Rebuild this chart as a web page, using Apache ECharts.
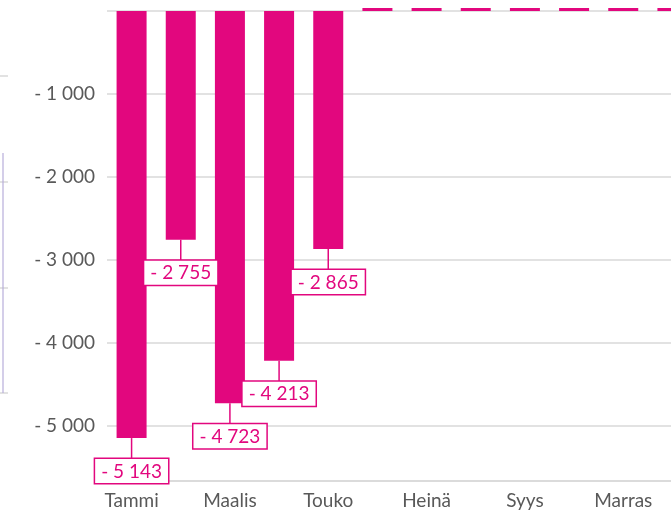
<!DOCTYPE html>
<html>
<head>
<meta charset="utf-8">
<script src="https://cdn.jsdelivr.net/npm/echarts@6/dist/echarts.min.js"></script>
<style>
html,body{margin:0;padding:0;background:#fff;}
#c{width:671px;height:513px;}
</style>
</head>
<body>
<div id="c"></div>
<script>
const categories = ['Tammi','Helmi','Maalis','Huhti','Touko','Kesä','Heinä','Elo','Syys','Loka','Marras','Joulu'];
const values = [-5143, -2755, -4723, -4213, -2865, 0, 0, 0, 0, 0, 0, 0];
const yMin = -5660;
const yMax = 0;

const PINK = '#E2077E';
const GRAY_TEXT = '#595959';
const GRID = '#D9D9D9';
const FONT = 'Lato';

function fmt(v) {
  if (v === 0) return '';
  const a = Math.abs(Math.round(v)).toString().replace(/\B(?=(\d{3})+(?!\d))/g, ' ');
  return (v < 0 ? '- ' : '') + a;
}

const chart = echarts.init(document.getElementById('c'), null, {renderer: 'canvas'});
chart.setOption({
  animation: false,
  backgroundColor: '#fff',
  grid: {left: 107, top: 11, width: 590, bottom: 32, containLabel: false, outerBoundsMode: 'none'},
  xAxis: {
    type: 'category',
    data: categories,
    position: 'bottom',
    axisLine: {show: true, onZero: false, lineStyle: {color: GRID, width: 1.5}},
    axisTick: {show: false},
    axisLabel: {interval: 1, color: GRAY_TEXT, fontFamily: FONT, fontSize: 19, margin: 10}
  },
  yAxis: {
    type: 'value',
    min: yMin,
    max: yMax,
    splitNumber: 6,
    axisLine: {show: false},
    axisTick: {show: false},
    splitLine: {show: true, lineStyle: {color: GRID, width: 1.5}},
    axisLabel: {color: GRAY_TEXT, fontFamily: FONT, fontSize: 19, margin: 12, showMinLabel: false,
      formatter: v => fmt(v)}
  },
  series: [{
    type: 'custom',
    z: 1,
    silent: true,
    data: values.map((v, i) => [i, v]),
    renderItem: (params, api) => {
      const v = api.value(1);
      if (v === 0) return null;
      const p = api.coord([api.value(0), v]);
      return {type: 'line', shape: {x1: p[0], y1: p[1], x2: p[0], y2: p[1] + 22},
        style: {stroke: PINK, lineWidth: 1.5}};
    }
  }, {
    type: 'bar',
    z: 2,
    clip: false,
    data: values.map(v => ({value: v, label: {show: v !== 0}})),
    barWidth: 30,
    barMinHeight: 3,
    itemStyle: {color: PINK},
    label: {
      show: true,
      position: 'bottom',
      distance: 21,
      formatter: p => fmt(p.value),
      color: PINK,
      fontFamily: FONT,
      fontSize: 19,
      backgroundColor: '#fff',
      borderColor: PINK,
      borderWidth: 1.5,
      padding: [3, 6, 2, 6]
    }
  }],
  graphic: [
    {type: 'line', shape: {x1: 0, y1: 76, x2: 8, y2: 76}, style: {stroke: GRID, lineWidth: 1.5}},
    {type: 'line', shape: {x1: 0, y1: 182, x2: 8, y2: 182}, style: {stroke: GRID, lineWidth: 1.5}},
    {type: 'line', shape: {x1: 0, y1: 288, x2: 8, y2: 288}, style: {stroke: GRID, lineWidth: 1.5}},
    {type: 'line', shape: {x1: 0, y1: 393, x2: 8, y2: 393}, style: {stroke: GRID, lineWidth: 1.5}},
    {type: 'line', shape: {x1: 3, y1: 153, x2: 3, y2: 393}, style: {stroke: '#B8AEDB', lineWidth: 1.2}}
  ]
});
</script>
</body>
</html>
